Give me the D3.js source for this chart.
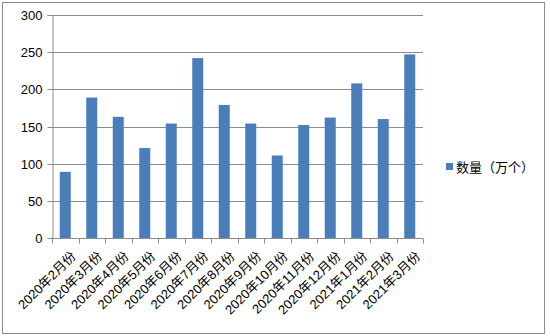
<!DOCTYPE html>
<html>
<head>
<meta charset="utf-8">
<script src="https://cdn.jsdelivr.net/npm/d3@7"></script>
<style>
  body { margin: 0; background: #fff; }
  text { font-family: "Liberation Sans", Arial, "Noto Sans CJK SC", sans-serif; fill: #000; }
</style>
</head>
<body>
<div id="chart"></div>
<script>
// data
var months = ["2020年2月份", "2020年3月份", "2020年4月份", "2020年5月份", "2020年6月份",
              "2020年7月份", "2020年8月份", "2020年9月份", "2020年10月份", "2020年11月份",
              "2020年12月份", "2021年1月份", "2021年2月份", "2021年3月份"];
var counts = [89, 189, 163, 121, 154, 242, 179, 154, 111, 152, 162, 208, 160, 247];
var yTicks = [0, 50, 100, 150, 200, 250, 300];
var seriesName = "数量（万个）";

var W = 550, H = 336;
var margin = {top: 15, right: 127, bottom: 98, left: 52},
    width = W - margin.left - margin.right,
    height = H - margin.top - margin.bottom;

var root = d3.select("#chart").append("svg")
    .attr("width", W)
    .attr("height", H);

// outer chart border
root.append("rect")
    .attr("x", 2.5).attr("y", 2.5)
    .attr("width", 542).attr("height", 331)
    .attr("fill", "none")
    .attr("stroke", "#8c8c8c");

var svg = root.append("g")
    .attr("transform", "translate(" + margin.left + "," + margin.top + ")");

var x = d3.scaleBand()
    .domain(months)
    .range([0, width]);

var y = d3.scaleLinear()
    .domain([0, 300])
    .range([height, 0]);

// gridlines
svg.append("g")
    .selectAll("line")
    .data(yTicks.slice(1))
    .enter()
    .append("line")
    .attr("x1", 0).attr("x2", width)
    .attr("y1", d => Math.round(y(d)) + 0.5)
    .attr("y2", d => Math.round(y(d)) + 0.5)
    .attr("stroke", "#8c8c8c");

// Y axis
var yAxis = svg.append("g")
    .attr("transform", "translate(0.5,0)")
    .call(d3.axisLeft(y).tickValues(yTicks).tickSize(5).tickPadding(5));
yAxis.select(".domain").attr("stroke", "#8c8c8c");
yAxis.selectAll(".tick line").attr("stroke", "#8c8c8c");
yAxis.selectAll(".tick text").style("font-size", "13px");
yAxis.selectAll(".tick").attr("transform", d => "translate(0," + (Math.round(y(d)) + 0.5) + ")");

// X axis, ticks at band edges
var xg = svg.append("g")
    .attr("transform", "translate(0," + (Math.round(height) + 0.5) + ")");
xg.append("line")
    .attr("x1", 0).attr("x2", width)
    .attr("stroke", "#8c8c8c");
xg.selectAll("line.tk")
    .data(d3.range(months.length + 1))
    .enter()
    .append("line")
    .attr("class", "tk")
    .attr("x1", i => Math.round(i * x.step()) + 0.5)
    .attr("x2", i => Math.round(i * x.step()) + 0.5)
    .attr("y1", 0).attr("y2", 5)
    .attr("stroke", "#8c8c8c");
xg.selectAll("text")
    .data(months)
    .enter()
    .append("text")
    .attr("transform", d => "translate(" + (x(d) + x.bandwidth() / 2 + 5) + ",12) rotate(-45)")
    .attr("text-anchor", "end")
    .attr("dy", "0.7em")
    .style("font-size", "13px")
    .text(d => d);

// bars
var barW = 11;
svg.append("g")
    .selectAll("rect")
    .data(counts)
    .enter()
    .append("rect")
    .attr("x", (d, i) => x(months[i]) + x.bandwidth() / 2 - barW / 2)
    .attr("y", d => y(d))
    .attr("width", barW)
    .attr("height", d => height - y(d))
    .attr("fill", "#4a7ebb");

// legend
var legend = root.append("g")
    .attr("transform", "translate(446,167)");
legend.append("rect")
    .attr("x", 0).attr("y", -4)
    .attr("width", 7).attr("height", 7)
    .attr("fill", "#4a7ebb");
legend.append("text")
    .attr("x", 10).attr("y", 0)
    .attr("dy", "0.35em")
    .style("font-size", "13px")
    .text(seriesName);
</script>
</body>
</html>
